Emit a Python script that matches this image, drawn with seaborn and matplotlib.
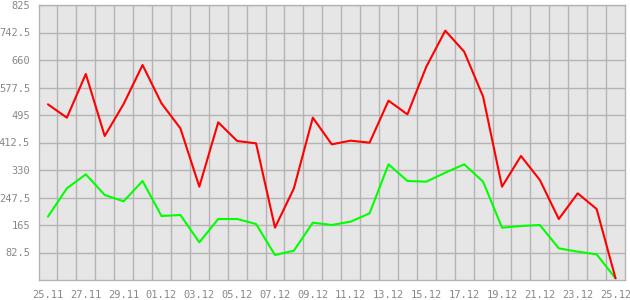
import matplotlib
matplotlib.use("Agg")
import matplotlib.pyplot as plt
import seaborn as sns
import pandas as pd
import numpy as np

days = ["25.11","26.11","27.11","28.11","29.11","30.11","01.12","02.12","03.12","04.12",
        "05.12","06.12","07.12","08.12","09.12","10.12","11.12","12.12","13.12","14.12",
        "15.12","16.12","17.12","18.12","19.12","20.12","21.12","22.12","23.12","24.12","25.12"]
red_values = [527, 487, 618, 432, 528, 645, 530, 455, 280, 473,
              417, 410, 157, 275, 487, 407, 418, 412, 538, 497,
              640, 748, 685, 550, 280, 372, 300, 183, 260, 213, 5]
green_values = [190, 275, 317, 255, 236, 297, 192, 195, 113, 183,
                183, 168, 75, 88, 172, 165, 175, 200, 347, 297,
                295, 322, 347, 295, 157, 162, 165, 95, 85, 77, 5]
y_ticks = [82.5, 165, 247.5, 330, 412.5, 495, 577.5, 660, 742.5, 825]
y_tick_labels = ["82.5", "165", "247.5", "330", "412.5", "495", "577.5", "660", "742.5", "825"]

sns.set_style("white")
plt.rcParams['font.family'] = ['DejaVu Sans Mono']

idx = np.arange(len(days))
df = pd.DataFrame({
    "x": np.concatenate([idx, idx]),
    "value": red_values + green_values,
    "series": ["red"] * len(days) + ["green"] * len(days),
})

fig = plt.figure(figsize=(6.3, 3.0), dpi=100)
ax = fig.add_axes([38.5 / 630, 20 / 300, (625 - 38.5) / 630, 275 / 300])
ax.set_facecolor("#e6e6e6")
fig.patch.set_facecolor("white")

sns.lineplot(data=df, x="x", y="value", hue="series",
             palette={"red": "#ff0000", "green": "#00ff00"},
             hue_order=["green", "red"],
             linewidth=1.5, legend=False, ax=ax)

ax.set_xlim(-0.5, len(days) - 0.5)
ax.set_ylim(0, 825)

grid_c = "#b4b4b4"
ax.set_xticks(idx[::2])
ax.set_xticklabels(days[::2])
ax.set_xticks(np.arange(0.5, len(days) - 0.5, 1), minor=True)
ax.set_yticks(y_ticks)
ax.set_yticklabels(y_tick_labels)
ax.grid(False)
ax.grid(True, which="minor", axis="x", color=grid_c, linewidth=1.0)
ax.grid(True, which="major", axis="y", color=grid_c, linewidth=1.0)
ax.set_axisbelow(True)

ax.tick_params(axis="x", which="major", length=5, width=1, color=grid_c,
               labelcolor="#888888", labelsize=7.5, pad=2)
ax.tick_params(axis="x", which="minor", length=0)
ax.tick_params(axis="y", which="major", length=5, width=1, color=grid_c,
               labelcolor="#888888", labelsize=7.5, pad=1)
for s in ax.spines.values():
    s.set_color(grid_c)
    s.set_linewidth(1.0)
    s.set_visible(True)

ax.set_xlabel("")
ax.set_ylabel("")

fig.savefig("out.png", dpi=100)
